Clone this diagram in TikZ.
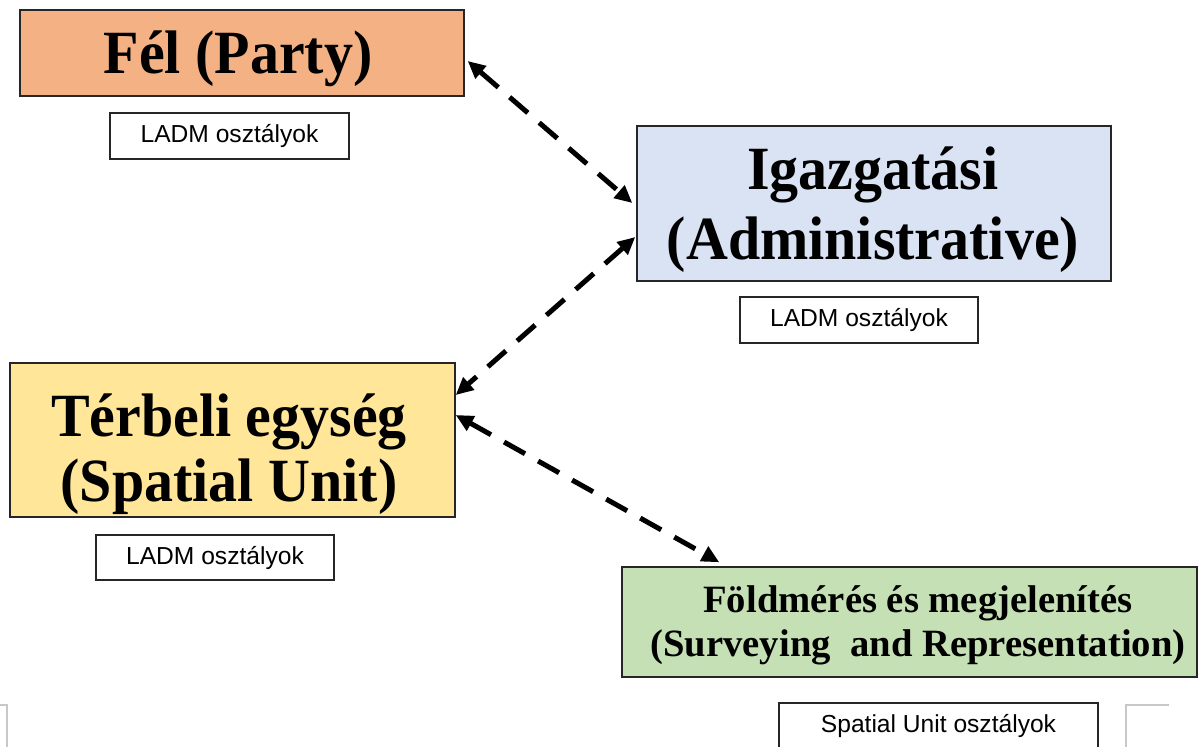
\documentclass[tikz,border=0pt]{standalone}
\usepackage{fontspec}
\usepackage{graphicx}
\setmainfont{Liberation Serif}
\newfontfamily\arialf{Liberation Sans}
\usetikzlibrary{arrows.meta,calc}
\definecolor{partyfill}{HTML}{F4B183}
\definecolor{adminfill}{HTML}{DAE3F3}
\definecolor{spatialfill}{HTML}{FFE699}
\definecolor{surveyfill}{HTML}{C5E0B4}
\definecolor{edgecol}{HTML}{262626}
\definecolor{fragcol}{HTML}{C8C8C8}
% #1 size, #2 baselineskip, #3 vertical stretch, #4 lines
\newcommand\mylines[4]{\scalebox{1}[#3]{\fontsize{#1}{#2}\selectfont\bfseries\begin{tabular}[t]{@{}c@{}}#4\end{tabular}}}
\tikzset{
  boxshape/.style={draw=edgecol, line width=0.03cm, rectangle, inner sep=0pt},
  boxtext/.style={inner sep=0pt, anchor=base},
  labelbox/.style={draw=edgecol, line width=0.03cm, fill=white, rectangle, inner sep=0pt,
    minimum height=0.92cm, font=\arialf\fontsize{14}{16}\selectfont},
  conn/.style={line width=0.1cm, dash pattern=on 0.48cm off 0.3cm,
    {Triangle[length=0.35cm,width=0.32cm]}-{Triangle[length=0.35cm,width=0.32cm]}},
  frag/.style={draw=fragcol, line width=0.03cm}
}
\begin{document}
\begin{tikzpicture}[x=0.02cm,y=-0.02cm]
\useasboundingbox (0,0) rectangle (1200,747);
\clip (0,0) rectangle (1200,747);
\fill[white] (0,0) rectangle (1200,747);

% Party
\node[boxshape, fill=partyfill, minimum width=8.88cm, minimum height=1.72cm] (party) at (242,53) {};
\node[boxtext] (partytxt) at (238,73) {\mylines{33}{35}{1.06}{Fél (Party)}};
\node[labelbox, minimum width=4.78cm] (ladmA) at (229.5,136) {LADM osztályok};

% Administrative
\node[boxshape, fill=adminfill, minimum width=9.48cm, minimum height=3.1cm] (admin) at (874,203.5) {};
\node[boxtext] (admintxt) at (873,189) {\mylines{33}{37.8}{1.06}{Igazgatási\\(Administrative)}};
\node[labelbox, minimum width=4.76cm] (ladmB) at (859,320) {LADM osztályok};

% Spatial unit
\node[boxshape, fill=spatialfill, minimum width=8.9cm, minimum height=3.08cm] (spatial) at (232.5,440) {};
\node[boxtext] (spatialtxt) at (229,436) {\mylines{33}{35.3}{1.06}{Térbeli egység\\(Spatial Unit)}};
\node[labelbox, minimum width=4.76cm, minimum height=0.9cm] (ladmC) at (215,557.5) {LADM osztályok};

% Surveying and representation
\node[boxshape, fill=surveyfill, minimum width=11.5cm, minimum height=2.2cm] (survey) at (909.5,622) {};
\node[boxtext] (surveytxt) at (918,612) {\mylines{22}{25.5}{1}{Földmérés és megjelenítés\\(Surveying\ \ and Representation)}};
\node[labelbox, minimum width=6.38cm] (suclass) at (938.5,726) {Spatial Unit osztályok};

% partially visible boxes at the bottom edge
\draw[frag] (-5,705) -- (7,705) -- (7,760);
\draw[frag] (1169,705) -- (1126,705) -- (1126,760);

% connectors
\draw[conn] ($(party.east)+(3,8)$) -- ($(admin.west)+(-4,-0.5)$);
\draw[conn] ($(admin.west)+(-1,33.5)$) -- ($(spatial.east)+(0,-45)$);
\draw[conn] ($(spatial.east)+(0,-25)$) -- ($(survey.north west)+(98,-4)$);
\end{tikzpicture}
\end{document}
